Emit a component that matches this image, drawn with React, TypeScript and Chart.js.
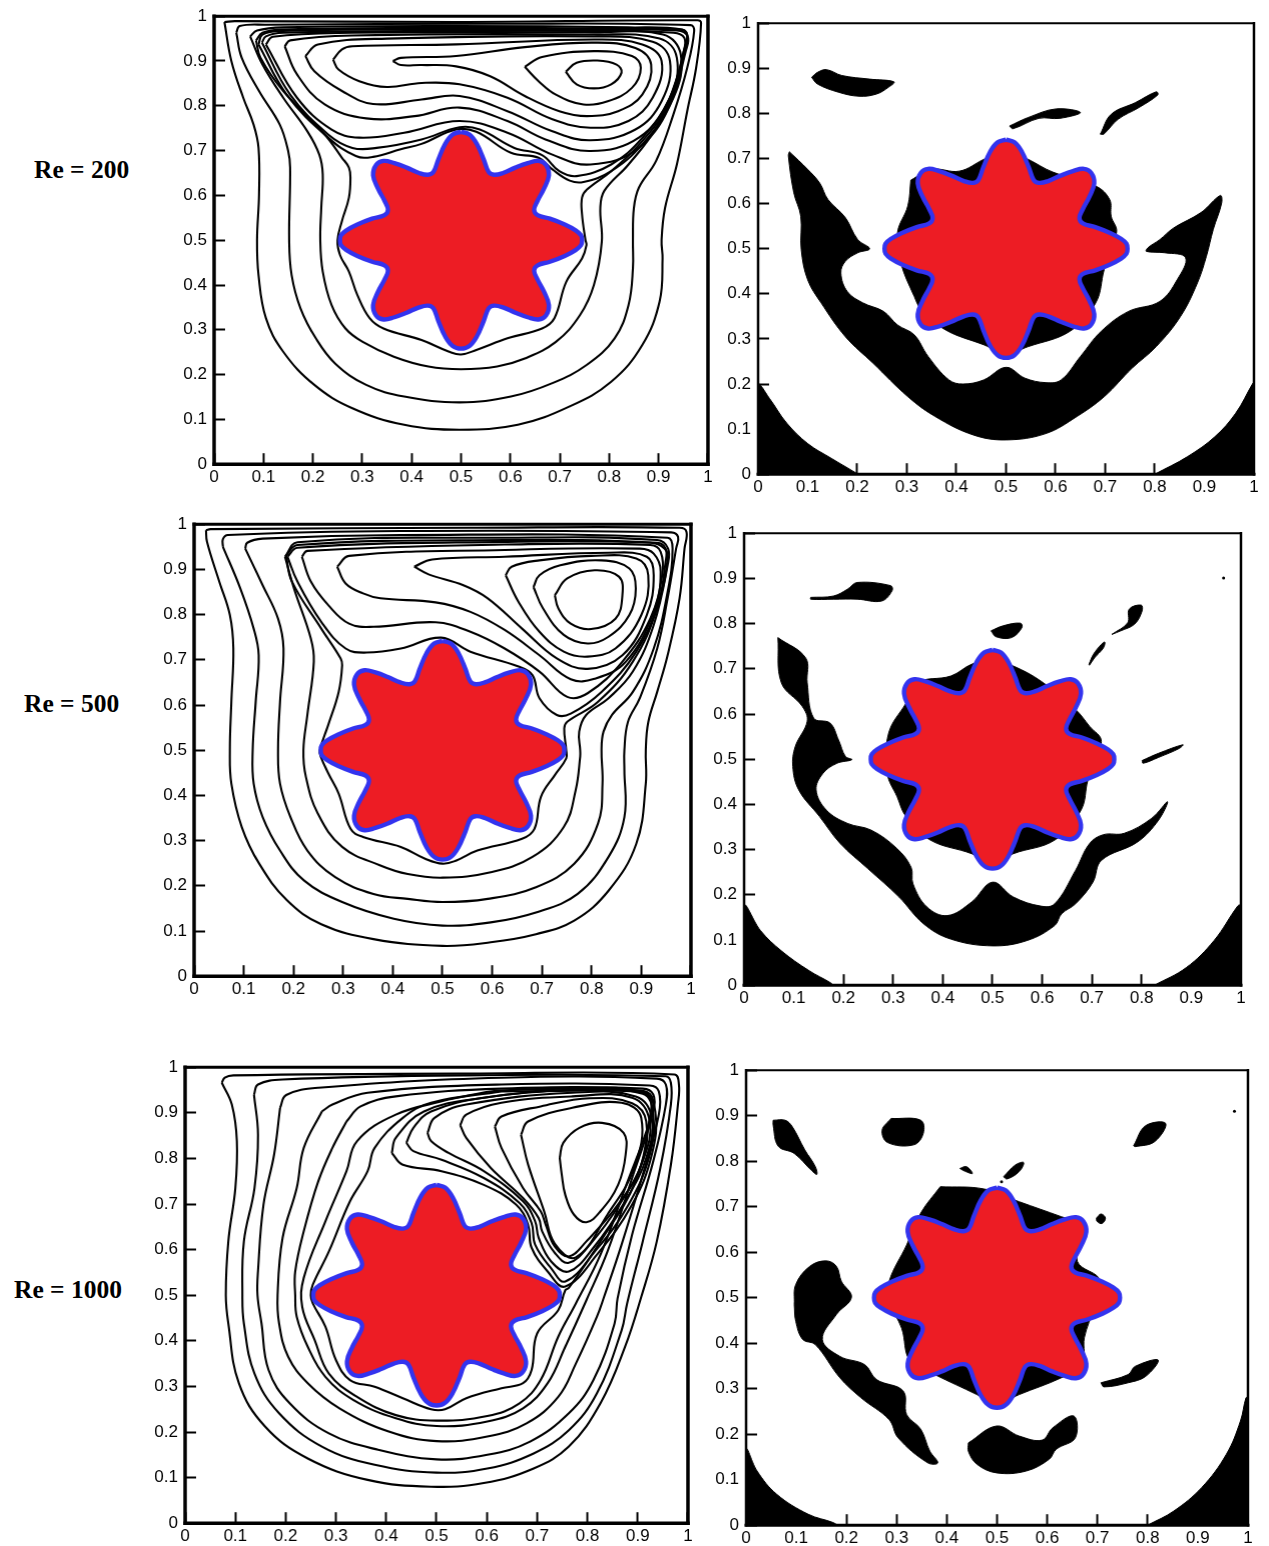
import React, { useEffect, useRef } from "react";
import { Chart, registerables } from "chart.js";

Chart.register(...registerables);

type Pt = number[];

const STAR: Pt[] = [[.5,.742],[.517,.736],[.532,.715],[.546,.68],[.556,.652],[.567,.646],[.585,.65],[.61,.662],[.635,.672],[.657,.677],[.672,.668],[.678,.645],[.668,.615],[.655,.588],[.648,.568],[.655,.556],[.68,.548],[.71,.535],[.732,.522],[.743,.511],[.745,.5],
[.743,.489],[.732,.478],[.71,.465],[.68,.452],[.655,.444],[.648,.432],[.655,.412],[.668,.385],[.678,.355],[.672,.332],[.657,.323],[.635,.328],[.61,.338],[.585,.35],[.567,.354],[.556,.348],[.546,.32],[.532,.285],[.517,.264],[.5,.258],
[.483,.264],[.468,.285],[.454,.32],[.444,.348],[.433,.354],[.415,.35],[.39,.338],[.365,.328],[.343,.323],[.328,.332],[.322,.355],[.332,.385],[.345,.412],[.352,.432],[.345,.444],[.32,.452],[.29,.465],[.268,.478],[.257,.489],[.255,.5],
[.257,.511],[.268,.522],[.29,.535],[.32,.548],[.345,.556],[.352,.568],[.345,.588],[.332,.615],[.322,.645],[.328,.668],[.343,.677],[.365,.672],[.39,.662],[.415,.65],[.433,.646],[.444,.652],[.454,.68],[.468,.715],[.483,.736]];

// Re = 200, stream lines
const A1: Pt[] = [[.021,.987],[.035,.9],[.059,.818],[.08,.758],[.09,.706],[.091,.602],[.087,.5],[.09,.422],[.105,.326],[.14,.251],[.203,.177],[.28,.125],[.385,.088],[.497,.077],[.615,.088],[.72,.129],[.804,.184],[.867,.266],[.902,.363],[.908,.459],[.906,.5],[.913,.572],[.937,.669],[.958,.788],[.976,.885],[.986,.985],[.979,.991],[.49,.987],[.042,.989]];
const A2: Pt[] = [[.045,.963],[.056,.907],[.091,.833],[.133,.758],[.15,.699],[.154,.662],[.152,.5],[.157,.422],[.175,.348],[.206,.281],[.245,.225],[.308,.177],[.385,.151],[.497,.138],[.601,.151],[.685,.181],[.755,.222],[.811,.281],[.839,.355],[.848,.437],[.848,.5],[.85,.572],[.86,.617],[.895,.677],[.93,.781],[.958,.885],[.972,.967],[.965,.98],[.559,.983],[.105,.981],[.052,.978]];
const A3: Pt[] = [[.073,.955],[.098,.892],[.14,.818],[.189,.743],[.213,.691],[.22,.647],[.217,.572],[.215,.5],[.22,.43],[.238,.355],[.266,.303],[.301,.273],[.364,.24],[.434,.218],[.5,.212],[.573,.218],[.629,.236],[.692,.273],[.741,.333],[.769,.4],[.785,.497],[.782,.572],[.79,.61],[.839,.669],[.895,.751],[.937,.862],[.958,.952],[.948,.97],[.839,.975],[.49,.978],[.14,.975],[.087,.968]];
const A4: Pt[] = [[.085,.946],[.094,.907],[.14,.833],[.224,.736],[.259,.684],[.273,.662],[.276,.639],[.273,.595],[.259,.543],[.25,.5],[.255,.467],[.273,.43],[.29,.378],[.315,.326],[.343,.303],[.42,.277],[.476,.251],[.5,.245],[.531,.255],[.594,.281],[.664,.303],[.689,.326],[.713,.407],[.745,.459],[.754,.489],[.752,.5],[.745,.558],[.745,.595],[.755,.613],[.804,.654],[.867,.721],[.923,.81],[.951,.922],[.958,.959],[.944,.97],[.839,.972],[.49,.974],[.14,.97],[.098,.963]];
const A5: Pt[] = [[.09,.937],[.147,.825],[.231,.729],[.287,.688],[.322,.686],[.378,.703],[.42,.715],[.49,.747],[.531,.742],[.601,.695],[.657,.684],[.685,.658],[.72,.633],[.748,.63],[.804,.654],[.867,.714],[.923,.803],[.955,.922],[.959,.955],[.937,.968],[.769,.97],[.49,.971],[.14,.967],[.098,.959]];
const A6: Pt[] = [[.097,.941],[.154,.825],[.231,.736],[.28,.706],[.329,.706],[.42,.725],[.497,.752],[.538,.747],[.608,.706],[.664,.69],[.699,.654],[.734,.643],[.804,.669],[.867,.728],[.923,.818],[.951,.922],[.952,.952],[.93,.963],[.769,.967],[.49,.967],[.14,.963],[.105,.955]];
const A7: Pt[] = [[.105,.937],[.168,.818],[.238,.747],[.294,.729],[.385,.74],[.497,.766],[.594,.74],[.685,.691],[.762,.669],[.86,.706],[.93,.818],[.945,.914],[.909,.959],[.769,.964],[.28,.963],[.119,.954]];
const A8: Pt[] = [[.143,.933],[.168,.87],[.224,.803],[.308,.772],[.406,.777],[.497,.796],[.594,.766],[.671,.725],[.762,.699],[.86,.729],[.923,.818],[.937,.907],[.902,.95],[.769,.959],[.28,.957],[.154,.946]];
const A9: Pt[] = [[.185,.911],[.203,.877],[.259,.833],[.322,.804],[.42,.814],[.497,.822],[.594,.788],[.685,.743],[.762,.723],[.853,.747],[.906,.81],[.923,.9],[.888,.943],[.769,.955],[.35,.95],[.21,.937]];
const A10: Pt[] = [[.241,.903],[.252,.881],[.294,.855],[.35,.842],[.42,.851],[.497,.848],[.594,.818],[.685,.77],[.762,.751],[.839,.766],[.888,.818],[.906,.9],[.867,.937],[.769,.948],[.49,.937],[.28,.933],[.259,.926]];
const A11: Pt[] = [[.362,.9],[.378,.907],[.49,.911],[.629,.931],[.769,.941],[.853,.929],[.885,.892],[.867,.825],[.818,.788],[.755,.777],[.699,.788],[.629,.822],[.559,.866],[.49,.888],[.42,.891],[.378,.891]];
const A12: Pt[] = [[.629,.887],[.664,.909],[.769,.922],[.846,.911],[.864,.885],[.846,.84],[.797,.81],[.748,.803],[.692,.825],[.657,.855]];
const A13: Pt[] = [[.712,.876],[.734,.896],[.776,.901],[.815,.892],[.825,.874],[.804,.848],[.769,.839],[.734,.848]];

// Re = 200, black regions
const B_BAND: Pt[] = [[.063,.715],[.1,.676],[.124,.646],[.141,.609],[.176,.569],[.201,.52],[.225,.5],[.201,.491],[.176,.472],[.167,.446],[.18,.405],[.211,.38],[.253,.361],[.281,.331],[.315,.309],[.343,.261],[.385,.209],[.413,.2],[.455,.209],[.5,.237],[.538,.213],[.58,.203],[.611,.209],[.65,.261],[.692,.317],[.747,.361],[.81,.383],[.845,.431],[.862,.48],[.82,.491],[.783,.494],[.786,.502],[.81,.52],[.838,.546],[.893,.58],[.932,.618],[.935,.602],[.918,.543],[.904,.483],[.886,.424],[.852,.35],[.803,.283],[.754,.235],[.698,.172],[.643,.128],[.58,.09],[.5,.076],[.434,.087],[.357,.128],[.302,.172],[.232,.246],[.176,.305],[.127,.38],[.1,.431],[.087,.498],[.086,.572],[.072,.624],[.061,.706]];
const B_RING: Pt[] = [[.308,.652],[.35,.676],[.406,.672],[.455,.698],[.5,.72],[.545,.698],[.594,.67],[.681,.639],[.709,.609],[.712,.572],[.723,.537],[.698,.454],[.681,.38],[.629,.317],[.545,.283],[.5,.268],[.455,.287],[.378,.32],[.329,.365],[.315,.394],[.288,.468],[.281,.535],[.302,.595]];
const B_BLOB: Pt[] = [[.108,.88],[.12,.891],[.138,.897],[.169,.884],[.225,.876],[.274,.87],[.263,.858],[.239,.843],[.204,.838],[.162,.847],[.12,.865]];
const B_SLIVER1: Pt[] = [[.507,.772],[.545,.791],[.601,.81],[.65,.802],[.608,.789],[.566,.789],[.514,.766]];
const B_SLIVER2: Pt[] = [[.69,.754],[.712,.798],[.761,.824],[.803,.848],[.806,.841],[.768,.813],[.726,.787],[.697,.754]];
const B_LEFT: Pt[] = [[0,0],[0,.198],[.023,.168],[.058,.113],[.1,.068],[.148,.035],[.194,.005],[.2,0]];
const B_RIGHT: Pt[] = [[.8,0],[.866,.039],[.921,.083],[.963,.135],[.998,.202],[1,.202],[1,0]];

// Re = 500, stream lines
const C1: Pt[] = [[.024,.987],[.026,.961],[.051,.872],[.072,.799],[.079,.725],[.075,.607],[.072,.5],[.075,.426],[.096,.33],[.131,.249],[.187,.168],[.256,.115],[.361,.082],[.5,.067],[.597,.075],[.688,.093],[.765,.123],[.834,.189],[.89,.293],[.909,.426],[.909,.5],[.914,.562],[.932,.629],[.953,.71],[.977,.836],[.987,.946],[.991,.983],[.977,.992],[.556,.992],[.033,.989]];
const C2: Pt[] = [[.058,.95],[.093,.858],[.12,.769],[.13,.71],[.124,.607],[.118,.5],[.12,.426],[.138,.352],[.173,.278],[.221,.212],[.298,.164],[.402,.127],[.5,.112],[.597,.119],[.688,.141],[.772,.182],[.834,.264],[.866,.352],[.866,.456],[.866,.5],[.873,.562],[.897,.615],[.932,.725],[.953,.836],[.97,.946],[.974,.972],[.96,.982],[.416,.985],[.068,.976],[.058,.967]];
const C3: Pt[] = [[.103,.946],[.138,.865],[.169,.791],[.18,.725],[.173,.607],[.169,.5],[.173,.426],[.194,.352],[.228,.278],[.284,.219],[.361,.182],[.43,.171],[.5,.164],[.591,.171],[.688,.197],[.765,.249],[.813,.338],[.822,.426],[.82,.5],[.824,.541],[.841,.578],[.883,.629],[.925,.725],[.953,.85],[.963,.946],[.953,.97],[.416,.976],[.138,.968],[.107,.959]];
const C4: Pt[] = [[.183,.928],[.201,.858],[.235,.747],[.241,.696],[.228,.578],[.22,.5],[.225,.441],[.249,.36],[.298,.286],[.375,.245],[.43,.226],[.5,.218],[.597,.23],[.681,.264],[.744,.33],[.768,.412],[.777,.486],[.777,.5],[.775,.541],[.789,.578],[.834,.615],[.883,.674],[.925,.777],[.953,.909],[.954,.946],[.932,.965],[.625,.97],[.208,.96]];
const C5: Pt[] = [[.185,.931],[.197,.873],[.256,.769],[.295,.703],[.298,.688],[.291,.629],[.27,.556],[.253,.5],[.255,.486],[.27,.449],[.291,.404],[.315,.326],[.34,.308],[.416,.286],[.465,.26],[.5,.249],[.528,.256],[.57,.278],[.66,.304],[.685,.326],[.698,.397],[.726,.445],[.749,.482],[.749,.5],[.745,.548],[.751,.563],[.813,.607],[.883,.696],[.932,.814],[.949,.917],[.949,.946],[.932,.959],[.625,.965],[.208,.954]];
const C6: Pt[] = [[.188,.928],[.208,.873],[.256,.784],[.305,.725],[.347,.716],[.416,.725],[.497,.749],[.556,.718],[.653,.685],[.681,.666],[.695,.615],[.73,.578],[.758,.581],[.82,.629],[.89,.718],[.935,.828],[.953,.924],[.947,.946],[.918,.959],[.625,.961],[.208,.948]];
const C7: Pt[] = [[.217,.928],[.235,.873],[.27,.821],[.312,.78],[.361,.773],[.486,.783],[.556,.762],[.625,.725],[.695,.674],[.751,.618],[.792,.626],[.862,.696],[.918,.791],[.942,.887],[.939,.939],[.918,.954],[.625,.955],[.228,.941]];
const C8: Pt[] = [[.288,.906],[.305,.869],[.34,.847],[.375,.836],[.486,.827],[.556,.806],[.625,.766],[.695,.71],[.758,.657],[.806,.658],[.869,.696],[.925,.806],[.939,.895],[.925,.935],[.897,.946],[.625,.943],[.312,.93]];
const C9: Pt[] = [[.443,.906],[.479,.922],[.625,.928],[.834,.937],[.911,.928],[.925,.887],[.911,.799],[.862,.71],[.792,.68],[.73,.703],[.66,.769],[.591,.836],[.542,.865],[.472,.889]];
const C10: Pt[] = [[.627,.887],[.639,.906],[.695,.92],[.799,.93],[.89,.924],[.914,.887],[.9,.799],[.848,.725],[.792,.707],[.744,.718],[.695,.762],[.653,.828]];
const C11: Pt[] = [[.683,.861],[.695,.887],[.737,.909],[.82,.92],[.876,.902],[.889,.858],[.876,.799],[.834,.751],[.792,.736],[.744,.755],[.702,.814]];
const C12: Pt[] = [[.726,.843],[.751,.88],[.806,.898],[.855,.884],[.862,.843],[.848,.791],[.799,.768],[.758,.78],[.733,.814]];

// Re = 500, black regions
const D_BAND: Pt[] = [[.068,.769],[.124,.724],[.127,.669],[.14,.591],[.173,.58],[.19,.543],[.204,.506],[.217,.499],[.187,.491],[.159,.469],[.145,.432],[.166,.387],[.208,.358],[.256,.343],[.308,.302],[.336,.261],[.34,.224],[.368,.173],[.409,.154],[.458,.184],[.5,.228],[.542,.195],[.597,.175],[.625,.18],[.667,.254],[.695,.313],[.723,.333],[.765,.336],[.82,.369],[.852,.406],[.834,.365],[.792,.317],[.719,.276],[.702,.228],[.667,.18],[.639,.158],[.625,.132],[.57,.099],[.5,.087],[.416,.102],[.361,.136],[.312,.195],[.249,.258],[.194,.313],[.152,.373],[.11,.432],[.098,.484],[.103,.528],[.127,.584],[.117,.617],[.075,.669]];
const D_RING: Pt[] = [[.326,.624],[.347,.669],[.416,.684],[.458,.71],[.5,.721],[.542,.706],[.597,.673],[.667,.61],[.695,.573],[.719,.539],[.692,.454],[.678,.387],[.625,.321],[.542,.291],[.5,.269],[.458,.291],[.375,.321],[.326,.373],[.308,.417],[.288,.469],[.291,.558]];
const D_BLOB: Pt[] = [[.134,.858],[.18,.861],[.208,.876],[.228,.891],[.295,.884],[.298,.873],[.277,.85],[.228,.854],[.18,.854],[.134,.854]];
const D_OVAL: Pt[] = [[.497,.784],[.521,.795],[.556,.801],[.559,.791],[.538,.769],[.507,.771]];
const D_UPPER: Pt[] = [[.74,.776],[.772,.802],[.775,.832],[.799,.841],[.801,.828],[.786,.799],[.758,.784]];
const D_THIN: Pt[] = [[.694,.71],[.703,.732],[.719,.754],[.726,.759],[.723,.746],[.705,.724],[.695,.708]];
const D_SLIVER: Pt[] = [[.801,.497],[.834,.513],[.883,.532],[.876,.524],[.834,.504],[.803,.491]];
const D_LEFT: Pt[] = [[0,0],[0,.176],[.033,.121],[.075,.076],[.131,.032],[.173,.006],[.178,0]];
const D_RIGHT: Pt[] = [[.826,0],[.89,.039],[.946,.099],[.994,.176],[1,.176],[1,0]];
const D_DOTS: Pt[] = [[.965,.901]];

// Re = 1000, stream lines
const E1: Pt[] = [[.073,.966],[.093,.918],[.103,.838],[.1,.735],[.086,.618],[.081,.5],[.086,.438],[.107,.307],[.159,.212],[.244,.142],[.363,.095],[.489,.08],[.594,.088],[.693,.12],[.763,.168],[.826,.263],[.875,.387],[.907,.496],[.938,.618],[.966,.786],[.98,.918],[.982,.962],[.973,.984],[.559,.986],[.096,.982],[.079,.977]];
const E2: Pt[] = [[.137,.94],[.145,.852],[.138,.735],[.117,.618],[.114,.5],[.117,.438],[.138,.328],[.187,.241],[.272,.168],[.377,.128],[.5,.111],[.601,.12],[.693,.153],[.763,.204],[.819,.285],[.868,.423],[.879,.482],[.91,.618],[.945,.779],[.966,.918],[.966,.966],[.956,.98],[.559,.982],[.194,.973],[.145,.962]];
const E3: Pt[] = [[.189,.911],[.177,.808],[.156,.699],[.145,.553],[.144,.5],[.152,.438],[.166,.336],[.208,.263],[.286,.197],[.384,.161],[.5,.14],[.601,.15],[.686,.179],[.763,.241],[.812,.314],[.854,.438],[.86,.493],[.889,.633],[.931,.794],[.956,.918],[.956,.962],[.938,.975],[.629,.977],[.265,.955],[.201,.939]];
const E4: Pt[] = [[.272,.903],[.236,.823],[.222,.735],[.194,.626],[.184,.5],[.187,.438],[.205,.365],[.244,.307],[.307,.252],[.405,.201],[.5,.18],[.601,.19],[.679,.219],[.742,.277],[.777,.35],[.819,.453],[.833,.496],[.868,.611],[.91,.764],[.942,.896],[.942,.947],[.924,.96],[.629,.962],[.363,.944],[.293,.918]];
const E5: Pt[] = [[.321,.881],[.293,.823],[.265,.75],[.236,.64],[.219,.552],[.219,.5],[.222,.453],[.244,.387],[.279,.321],[.335,.27],[.419,.23],[.5,.213],[.601,.223],[.672,.252],[.721,.307],[.756,.387],[.798,.489],[.84,.596],[.889,.757],[.931,.903],[.931,.94],[.91,.953],[.629,.953],[.419,.936],[.349,.914]];
const E6: Pt[] = [[.524,.929],[.419,.896],[.342,.838],[.321,.772],[.279,.662],[.236,.538],[.233,.474],[.258,.401],[.286,.328],[.342,.277],[.419,.237],[.5,.225],[.601,.235],[.665,.263],[.707,.314],[.742,.409],[.777,.482],[.826,.589],[.875,.735],[.928,.896],[.928,.936],[.903,.949],[.629,.949]];
const E7: Pt[] = [[.629,.947],[.489,.922],[.433,.889],[.377,.823],[.363,.772],[.328,.706],[.286,.596],[.254,.523],[.25,.5],[.254,.482],[.279,.431],[.3,.358],[.328,.314],[.377,.299],[.433,.274],[.489,.25],[.517,.25],[.559,.274],[.629,.296],[.672,.307],[.689,.336],[.7,.416],[.742,.467],[.756,.511],[.763,.516],[.826,.618],[.896,.75],[.924,.889],[.924,.933],[.896,.947]];
const E8: Pt[] = [[.411,.812],[.419,.845],[.475,.903],[.594,.933],[.77,.951],[.91,.946],[.935,.903],[.928,.808],[.889,.699],[.819,.589],[.756,.519],[.721,.552],[.689,.604],[.682,.655],[.658,.699],[.594,.742],[.51,.772],[.433,.786]];
const E9: Pt[] = [[.44,.834],[.454,.867],[.489,.903],[.594,.933],[.77,.949],[.91,.942],[.931,.896],[.924,.808],[.882,.699],[.815,.596],[.756,.53],[.728,.559],[.696,.611],[.689,.658],[.665,.702],[.594,.757],[.51,.797],[.454,.816]];
const E10: Pt[] = [[.482,.856],[.496,.889],[.559,.918],[.77,.944],[.896,.936],[.928,.889],[.917,.801],[.875,.706],[.812,.604],[.763,.552],[.728,.574],[.703,.626],[.696,.662],[.672,.706],[.594,.772],[.524,.812],[.489,.838]];
const E11: Pt[] = [[.547,.873],[.559,.896],[.629,.922],[.77,.936],[.889,.933],[.924,.881],[.91,.794],[.868,.706],[.805,.611],[.763,.571],[.735,.593],[.71,.64],[.703,.669],[.672,.713],[.608,.779],[.559,.845]];
const E12: Pt[] = [[.616,.87],[.629,.892],[.707,.914],[.805,.932],[.889,.921],[.917,.881],[.907,.786],[.861,.699],[.798,.618],[.763,.585],[.735,.607],[.717,.655],[.707,.684],[.672,.735],[.629,.823]];
const E13: Pt[] = [[.668,.852],[.682,.881],[.77,.911],[.868,.922],[.907,.889],[.893,.779],[.84,.677],[.777,.583],[.735,.613],[.714,.684],[.682,.787]];
const E14: Pt[] = [[.745,.801],[.752,.834],[.784,.867],[.829,.878],[.872,.856],[.876,.808],[.861,.742],[.826,.684],[.798,.66],[.773,.677],[.756,.72],[.749,.765]];

// Re = 1000, black regions
const F_RING: Pt[] = [[.387,.744],[.474,.739],[.544,.711],[.628,.678],[.67,.66],[.66,.58],[.705,.536],[.674,.412],[.67,.353],[.628,.324],[.544,.287],[.499,.265],[.46,.287],[.376,.331],[.327,.36],[.31,.433],[.285,.492],[.285,.536],[.32,.616],[.348,.686]];
const F_BLOB: Pt[] = [[.096,.485],[.099,.529],[.127,.569],[.159,.581],[.18,.569],[.19,.536],[.21,.501],[.18,.463],[.152,.408],[.187,.371],[.236,.353],[.26,.32],[.313,.295],[.32,.243],[.348,.211],[.366,.163],[.382,.137],[.362,.137],[.303,.192],[.285,.232],[.229,.28],[.187,.324],[.138,.397],[.113,.408],[.099,.448]];
const F_BOTTOM: Pt[] = [[.443,.181],[.499,.218],[.544,.196],[.59,.187],[.611,.214],[.653,.24],[.656,.192],[.618,.167],[.604,.145],[.558,.119],[.499,.115],[.46,.134],[.443,.162]];
const F_TOPLEFT: Pt[] = [[.054,.89],[.078,.89],[.092,.876],[.117,.825],[.138,.788],[.141,.771],[.131,.779],[.096,.817],[.064,.833],[.054,.879]];
const F_OVAL: Pt[] = [[.289,.894],[.348,.89],[.353,.861],[.334,.836],[.282,.841],[.271,.868]];
const F_UPPER: Pt[] = [[.772,.834],[.796,.878],[.836,.883],[.814,.843],[.775,.832]];
const F_SMALL: Pt[] = [[.426,.784],[.439,.788],[.451,.773],[.436,.778]];
const F_THIN: Pt[] = [[.513,.766],[.537,.792],[.553,.797],[.544,.777],[.52,.761]];
const F_ROUND: Pt[] = [[.698,.675],[.707,.684],[.716,.675],[.709,.663],[.699,.668]];
const F_MID: Pt[] = [[.707,.313],[.761,.331],[.775,.349],[.821,.363],[.796,.327],[.761,.313],[.713,.304]];
const F_LEFT: Pt[] = [[0,0],[0,.167],[.022,.119],[.061,.068],[.124,.024],[.173,.006],[.18,0]];
const F_RIGHT: Pt[] = [[.8,0],[.852,.031],[.908,.083],[.957,.156],[.985,.229],[.996,.28],[1,.28],[1,0]];
const F_DOTS: Pt[] = [[.973,.91],[.509,.755]];

const ROW_LABELS = ["Re = 200", "Re = 500", "Re = 1000"];

const PANELS = [
  { box: [214, 707, 16, 464], heavy: true, lines: [A1,A2,A3,A4,A5,A6,A7,A8,A9,A10,A11,A12,A13], regions: [] as Pt[][], dots: [] as Pt[] },
  { box: [758, 1253, 23, 474], heavy: false, lines: [] as Pt[][], regions: [B_BAND,B_RING,B_BLOB,B_SLIVER1,B_SLIVER2,B_LEFT,B_RIGHT], dots: [] as Pt[] },
  { box: [194, 690, 524, 976], heavy: true, lines: [C1,C2,C3,C4,C5,C6,C7,C8,C9,C10,C11,C12], regions: [] as Pt[][], dots: [] as Pt[] },
  { box: [744, 1240, 533, 985], heavy: false, lines: [] as Pt[][], regions: [D_BAND,D_RING,D_BLOB,D_OVAL,D_UPPER,D_THIN,D_SLIVER,D_LEFT,D_RIGHT], dots: D_DOTS },
  { box: [185, 687, 1067, 1523], heavy: true, lines: [E1,E2,E3,E4,E5,E6,E7,E8,E9,E10,E11,E12,E13,E14], regions: [] as Pt[][], dots: [] as Pt[] },
  { box: [746, 1247, 1070, 1525], heavy: false, lines: [] as Pt[][], regions: [F_RING,F_BLOB,F_BOTTOM,F_TOPLEFT,F_OVAL,F_UPPER,F_SMALL,F_THIN,F_ROUND,F_MID,F_LEFT,F_RIGHT], dots: F_DOTS },
];

const LABEL_STYLES: React.CSSProperties[] = [
  { left: 34, top: 155 },
  { left: 24, top: 689 },
  { left: 14, top: 1275 },
];

const ML = 42, MT = 14, MR = 14, MB = 24;

const closed = (pts: Pt[]) => pts.concat([pts[0]]).map(([x, y]) => ({ x, y }));

const formatTick = (v: number) => (v === 0 || v === 1 ? String(v) : v.toFixed(1));

function buildChart(canvas: HTMLCanvasElement, panel: (typeof PANELS)[number]) {
  const datasets: any[] = [
    { data: closed(STAR), showLine: true, fill: "shape", backgroundColor: "#ed1c24", borderColor: "#3333ee", borderWidth: 4.4, pointRadius: 0, tension: 0.4 },
    { data: panel.dots.map(([x, y]) => ({ x, y })), showLine: false, pointRadius: 1.5, pointBorderWidth: 0, pointBackgroundColor: "#000" },
    ...panel.regions.map((r) => ({ data: closed(r), showLine: true, fill: "shape", backgroundColor: "#000", borderColor: "#000", borderWidth: 1, pointRadius: 0, tension: 0.38 })),
    ...panel.lines.map((l) => ({ data: closed(l), showLine: true, fill: false, borderColor: "#000", borderWidth: 2.1, pointRadius: 0, tension: 0.4 })),
  ];
  const frame = {
    id: "frame",
    afterDatasetsDraw(chart: any) {
      const { left, right, top, bottom } = chart.chartArea;
      const ctx = chart.ctx;
      const seg = (x1: number, y1: number, x2: number, y2: number, w: number) => {
        ctx.lineWidth = w;
        ctx.beginPath();
        ctx.moveTo(x1, y1);
        ctx.lineTo(x2, y2);
        ctx.stroke();
      };
      ctx.save();
      ctx.strokeStyle = "#000";
      ctx.lineCap = "square";
      const side = panel.heavy ? 3.5 : 2.5;
      seg(left, top, right, top, panel.heavy ? 3 : 2);
      seg(left, top, left, bottom, side);
      seg(right, top, right, bottom, side);
      seg(left, bottom, right, bottom, panel.heavy ? 3.5 : 3);
      ctx.restore();
    },
  };
  const tickFont = { family: '"Liberation Sans", Arial, sans-serif', size: 17 };
  const gridOpts = { drawOnChartArea: false, drawTicks: true, tickLength: -11, tickColor: "#000", tickWidth: 2 };
  return new Chart(canvas, {
    type: "scatter",
    data: { datasets },
    plugins: [frame],
    options: {
      animation: false,
      responsive: false,
      maintainAspectRatio: false,
      devicePixelRatio: 1,
      events: [],
      layout: { autoPadding: false, padding: { top: MT, right: MR, left: 0, bottom: 0 } },
      plugins: { legend: { display: false }, tooltip: { enabled: false }, title: { display: false } },
      scales: {
        x: {
          type: "linear", position: "bottom", min: 0, max: 1,
          grid: gridOpts, border: { display: false },
          ticks: { stepSize: 0.1, padding: 14, color: "#000", font: tickFont, maxRotation: 0, minRotation: 0, autoSkip: false, callback: formatTick as any },
          afterFit: (s: any) => { s.height = MB; },
        },
        y: {
          type: "linear", position: "left", min: 0, max: 1,
          grid: gridOpts, border: { display: false },
          ticks: { stepSize: 0.1, padding: 18, color: "#000", font: tickFont, autoSkip: false, callback: formatTick as any },
          afterFit: (s: any) => { s.width = ML; },
        },
      },
    } as any,
  });
}

function Panel({ panel }: { panel: (typeof PANELS)[number] }) {
  const ref = useRef<HTMLCanvasElement>(null);
  const [x0, x1, y1, y0] = panel.box;
  useEffect(() => {
    const canvas = ref.current!;
    const chart = buildChart(canvas, panel);
    // Chart.js reserves some room of its own; resize so the plot area has the wanted size, then place it.
    const first = chart.chartArea;
    chart.resize(canvas.width + (x1 - x0 - first.width), canvas.height + (y0 - y1 - first.height));
    const area = chart.chartArea;
    canvas.style.left = `${x0 - area.left}px`;
    canvas.style.top = `${y1 - area.top}px`;
    return () => chart.destroy();
  }, []);
  return (
    <canvas
      ref={ref}
      width={x1 - x0 + ML + MR}
      height={y0 - y1 + MT + MB}
      style={{ position: "absolute", left: x0 - ML, top: y1 - MT, display: "block" }}
    />
  );
}

export default function App() {
  return (
    <div style={{ position: "absolute", left: 0, top: 0, width: 1269, height: 1546, overflow: "hidden", background: "#fff" }}>
      {PANELS.map((p, i) => (
        <Panel key={i} panel={p} />
      ))}
      {ROW_LABELS.map((t, i) => (
        <div
          key={t}
          style={{ position: "absolute", whiteSpace: "nowrap", font: 'bold 25.5px/30px "Liberation Serif", serif', color: "#000", ...LABEL_STYLES[i] }}
        >
          {t}
        </div>
      ))}
    </div>
  );
}
